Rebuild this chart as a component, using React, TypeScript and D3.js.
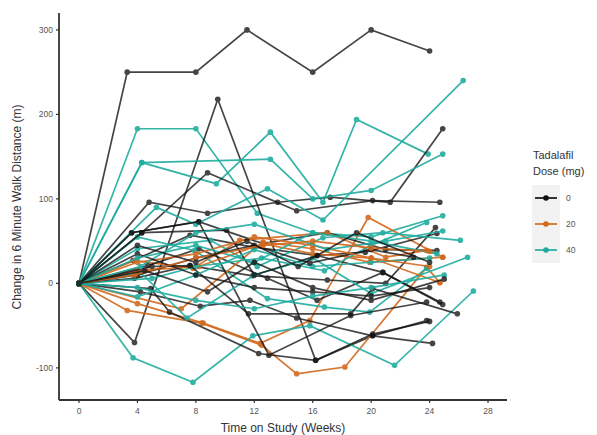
import React from "react";
import * as d3 from "d3";

// Dose group (mg) for each subject
const subjectDose: number[] = [
  0, 40, 0, 20, 40, 0, 0, 40, 20, 0, 40, 0, 20, 40, 0, 0, 40, 20, 0, 40, 0, 0, 40, 20, 0, 40, 0, 40, 0,
  20, 40, 0, 40, 20, 0, 40, 0,
];

// Visit weeks for each subject
const subjectWeeks: number[][] = [
  [0, 3.3, 8, 11.5, 16, 20, 24],
  [0, 4, 8, 12.2, 16, 20, 24.9],
  [0, 3.8, 9.5, 16.2, 20.1, 24.2],
  [0, 3.3, 8.4, 12.5, 14.9, 18.2, 23.8, 24.7],
  [0, 4.3, 9.4, 13.1, 16.7, 19, 23.9],
  [0, 4.8, 8.8, 13.6, 17.2, 21.3, 24.9],
  [0, 4.3, 8.8, 14.9, 20.1, 24.7],
  [0, 4.3, 13.1, 16, 20, 24.9],
  [0, 4, 8.5, 12.4, 15.8, 19.8, 24.9],
  [0, 3.6, 8.2, 12.6, 17, 21, 24.5],
  [0, 5.3, 8, 12.9, 16.7, 26.3],
  [0, 3.7, 7.6, 11.9, 16.3, 19.6, 24.5],
  [0, 3.8, 7.8, 11, 17, 21, 23.8],
  [0, 3.7, 7.8, 11.9, 15.8, 21.6, 27],
  [0, 3.8, 7.6, 11.9, 17, 21, 24.4],
  [0, 4.7, 8.2, 12.9, 16.3, 20.8, 24.9],
  [0, 4, 7.9, 12.9, 16.8, 19.9, 23.8],
  [0, 7, 12.6, 16, 19.9, 24.9],
  [0, 4.2, 8.3, 11.7, 14.9, 20.1, 23.8],
  [0, 4, 9, 12.2, 16.7, 20.8, 26.1],
  [0, 4.9, 6.2, 12.3, 16.2, 20.1, 24],
  [0, 3.6, 8.2, 13, 18.6, 23.8],
  [0, 4.2, 7.4, 12, 16, 20, 26.6],
  [0, 4, 8.2, 12.6, 16, 20, 24.7],
  [0, 4.3, 10.1, 12, 16.3, 20.8, 24.7],
  [0, 5, 8, 12.5, 16.8, 20, 23.8],
  [0, 5, 7.6, 11.6, 18.6, 20.1, 25.9],
  [0, 4, 8, 12, 16, 20, 24],
  [0, 4, 8, 12, 15.8, 20, 22.9],
  [0, 4, 8, 12, 16, 20, 24],
  [0, 4.2, 8, 12, 17, 21, 24.9],
  [0, 4, 8, 12, 16, 20, 24],
  [0, 4, 8, 12, 16, 20, 24.5],
  [0, 3.8, 8, 12.6, 16, 20, 24],
  [0, 4, 8, 11.5, 15, 19, 24],
  [0, 4, 8, 12, 16, 20, 25],
  [0, 4.5, 8.8, 12, 16, 20, 25],
];

// Change in 6-minute walk distance (m) at each visit
const subjectValues: number[][] = [
  [0, 250, 250, 300, 250, 300, 275],
  [0, 183, 183, 83, 60, 55, 80],
  [0, -70, 218, -91, -62, -71],
  [0, -32, -47, -73, -107, -99, 19, 1],
  [0, 143, 118, 179, 96, 194, 153],
  [0, 96, 83, 96, 102, 96, 183],
  [0, 60, 131, 86, 98, 96],
  [0, 143, 147, 100, 110, 153],
  [0, -24, -47, -71, -44, 78, 31],
  [0, 60, 73, 47, 60, 40, 39],
  [0, 90, 70, 112, 75, 240],
  [0, 27, 57, 43, 33, 37, 59],
  [0, 27, 18, 51, 60, 31, 39],
  [0, -88, -117, -62, -50, -97, -9],
  [0, 6, 21, 9, 4, 0, 66],
  [0, 21, 41, 6, -20, 13, -25],
  [0, 55, 39, -18, -28, -34, 18],
  [0, -30, 49, 41, 25, 31],
  [0, -10, -27, -20, -41, -62, -44],
  [0, 41, 51, 20, 54, 60, 51],
  [0, -6, -34, -83, -91, -60, -45],
  [0, 60, 73, -85, -38, -22],
  [0, 13, -41, 10, 30, -12, 31],
  [0, 15, 20, 47, 35, 30, 1],
  [0, 60, 63, 10, 33, 13, -22],
  [0, 6, 20, 30, 15, 45, 72],
  [0, 20, 21, -36, -36, -6, -36],
  [0, -16, 10, 40, 20, 25, 30],
  [0, 10, 30, 45, 24, 40, 31],
  [0, 25, 35, 55, 45, 30, 20],
  [0, 20, 60, 70, 40, 50, 62],
  [0, 35, 10, -5, -10, -15, -5],
  [0, 30, 45, 25, 60, 50, 35],
  [0, 10, 30, 45, 50, 42, 38],
  [0, 45, 25, 50, 20, 60, 25],
  [0, -5, -20, -30, -15, -5, 10],
  [0, 15, -10, 25, -5, -20, 5],
];

const doseLevels = [0, 20, 40];
const doseLabels = ["0", "20", "40"];
const xTicks = [0, 4, 8, 12, 16, 20, 24, 28];
const yTicks = [-100, 0, 100, 200, 300];

const colorFor: Record<number, string> = { 0: "#111111", 20: "#D2691E", 40: "#20ADA0" };

export default function App() {
  const W = 597;
  const H = 435;
  const left = 59;
  const right = 507;
  const top = 13;
  const bottom = 400;

  const x = d3.scaleLinear().domain([-1.37, 29.3]).range([left, right]);
  const y = d3.scaleLinear().domain([-138, 320]).range([bottom, top]);
  const line = d3
    .line<[number, number]>()
    .x((d) => x(d[0]))
    .y((d) => y(d[1]));

  const subjects = subjectDose.map((dose, i) => ({
    dose,
    pts: subjectWeeks[i].map((w, j) => [w, subjectValues[i][j]] as [number, number]),
  }));

  const axisColor = "#333";
  const tickText = "#555";

  return (
    <svg
      width={W}
      height={H}
      style={{ position: "absolute", left: 0, top: 0, background: "#fff" }}
      fontFamily="Liberation Sans, Arial, sans-serif"
    >
      <g>
        {subjects.map((s, i) => (
          <g key={i} opacity={s.dose === 0 ? 0.78 : 0.9}>
            <path d={line(s.pts) || ""} fill="none" stroke={colorFor[s.dose]} strokeWidth={1.7} />
            {s.pts.map((p, j) => (
              <circle key={j} cx={x(p[0])} cy={y(p[1])} r={2.8} fill={colorFor[s.dose]} />
            ))}
          </g>
        ))}
      </g>
      {/* axes */}
      <line x1={left} x2={left} y1={top} y2={bottom} stroke={axisColor} strokeWidth={1.8} />
      <line x1={left} x2={right} y1={bottom} y2={bottom} stroke={axisColor} strokeWidth={1.8} />
      {yTicks.map((t) => (
        <g key={t}>
          <line x1={left - 3} x2={left} y1={y(t)} y2={y(t)} stroke={axisColor} strokeWidth={1.2} />
          <text x={left - 6} y={y(t)} dy="0.35em" textAnchor="end" fontSize={8.5} fill={tickText}>
            {t}
          </text>
        </g>
      ))}
      {xTicks.map((t) => (
        <g key={t}>
          <line x1={x(t)} x2={x(t)} y1={bottom} y2={bottom + 3} stroke={axisColor} strokeWidth={1.2} />
          <text x={x(t)} y={bottom + 14} textAnchor="middle" fontSize={8.5} fill={tickText}>
            {t}
          </text>
        </g>
      ))}
      <text x={283} y={432} textAnchor="middle" fontSize={12} fill="#333">
        Time on Study (Weeks)
      </text>
      <text
        transform={`translate(21, 207) rotate(-90)`}
        textAnchor="middle"
        fontSize={12}
        fill="#333"
      >
        Change in 6 Minute Walk Distance (m)
      </text>
      {/* legend */}
      <text x={533} y={159} fontSize={11} fill="#333">
        Tadalafil
      </text>
      <text x={533} y={175} fontSize={11} fill="#333">
        Dose (mg)
      </text>
      {doseLevels.map((d, i) => {
        const cy = 198 + i * 26;
        return (
          <g key={d}>
            <rect x={532} y={cy - 13} width={28} height={26} fill="#f2f2f2" />
            <line x1={535} x2={557} y1={cy} y2={cy} stroke={colorFor[d]} strokeWidth={1.7} />
            <circle cx={546} cy={cy} r={2.8} fill={colorFor[d]} />
            <text x={566} y={cy} dy="0.35em" fontSize={8.5} fill={tickText}>
              {doseLabels[i]}
            </text>
          </g>
        );
      })}
    </svg>
  );
}
